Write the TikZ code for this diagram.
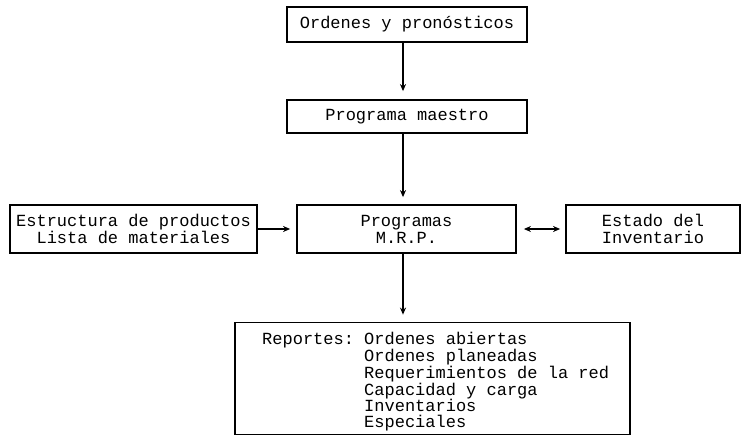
\documentclass[tikz,border=0pt]{standalone}
\usepackage{fontspec}
\setmonofont{Liberation Mono}
\usetikzlibrary{arrows.meta}
\tikzset{
  box/.style={draw=black, line width=1.8pt, inner sep=0pt, font=\ttfamily\fontsize{17}{17}\selectfont},
  arr/.style={line width=1.6pt, -{Stealth[length=7pt,width=6pt]}},
  biarr/.style={line width=1.6pt, {Stealth[length=7pt,width=6pt]}-{Stealth[length=7pt,width=6pt]}},
}
\begin{document}
\begin{tikzpicture}[x=1pt,y=-1pt]
\useasboundingbox (0,0) rectangle (742,436);
\node[box, minimum width=240pt, minimum height=35pt] (orden) at (407,24.5) {Ordenes y pronósticos};
\node[box, minimum width=240pt, minimum height=33pt] (maestro) at (407,116.5) {Programa maestro};
\node[box, minimum width=247pt, minimum height=48pt, align=center] (estr) at (133.5,229) {Estructura de productos\\Lista de materiales};
\node[box, minimum width=219pt, minimum height=48pt, align=center] (prog) at (406.5,229) {Programas\\M.R.P.};
\node[box, minimum width=174pt, minimum height=48pt, align=left] (estado) at (653,229) {Estado del\\Inventario};
\node[box, minimum width=395pt, minimum height=112pt] (rep) at (432.5,378.5) {};
\node[anchor=north west, inner sep=0pt, align=left, font=\ttfamily\fontsize{17}{15.8}\selectfont] (reptext) at (262,332)
 {Reportes: Ordenes abiertas\\
  \hphantom{Reportes: }Ordenes planeadas\\
  \hphantom{Reportes: }Requerimientos de la red\\
  \hphantom{Reportes: }Capacidad y carga\\
  \hphantom{Reportes: }Inventarios\\
  \hphantom{Reportes: }Especiales};
\coordinate (ax) at (403,0);
\draw[arr] (orden.south -| ax) -- ([yshift=8pt]maestro.north -| ax);
\draw[arr] (maestro.south -| ax) -- ([yshift=7pt]prog.north -| ax);
\draw[arr] (prog.south -| ax) -- ([yshift=7pt]rep.north -| ax);
\draw[arr] (estr.east) -- ([xshift=-6pt]prog.west);
\draw[biarr] ([xshift=7pt]prog.east) -- ([xshift=-5pt]estado.west);
\end{tikzpicture}
\end{document}
